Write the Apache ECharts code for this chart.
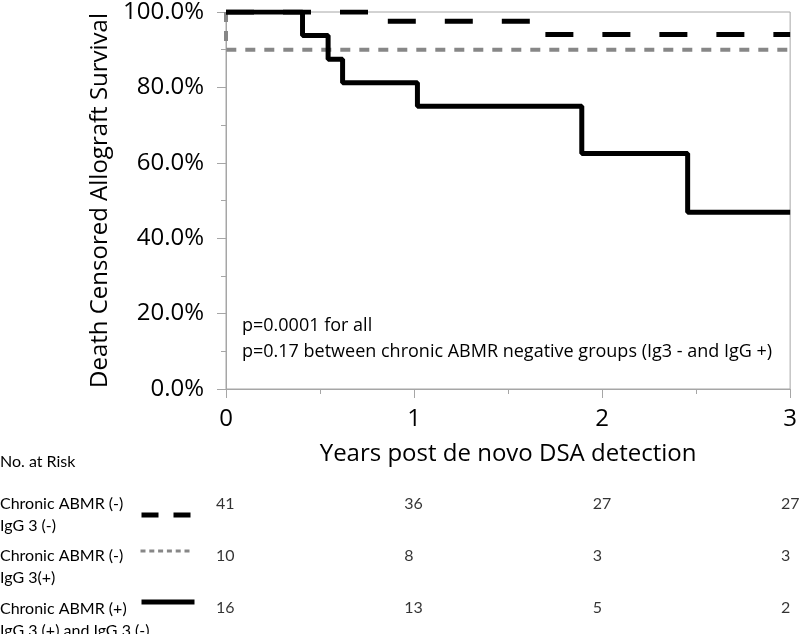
<!DOCTYPE html>
<html>
<head>
<meta charset="utf-8">
<script src="https://cdn.jsdelivr.net/npm/echarts@6/dist/echarts.min.js"></script>
<style>
  html,body{margin:0;padding:0;background:#fff;}
  #chart{width:800px;height:634px;}
</style>
</head>
<body>
<div id="chart"></div>
<script>
  // survival steps: [years, %]
  var curveNegNeg = [[0, 100], [0.82, 97.56], [1.67, 94.0], [3, 94.0]]
  var curveNegPos = [[0, 100], [0, 90], [3, 90]]
  var curvePos = [[0, 100], [0.407, 93.75], [0.543, 87.5], [0.62, 81.25], [1.018, 75], [1.892, 62.5], [2.455, 46.9], [3, 46.9]]

  var seriesNames = ['Chronic ABMR (-) IgG 3 (-)', 'Chronic ABMR (-) IgG 3(+)', 'Chronic ABMR (+)']
  var groupLabels = ['Chronic ABMR (-)\nIgG 3 (-)', 'Chronic ABMR (-)\nIgG 3(+)', 'Chronic ABMR (+)\nIgG 3 (+) and IgG 3 (-)']

  // No. at risk table
  var riskYears = [0, 1, 2, 3]
  var riskNegNeg = [41, 36, 27, 27]
  var riskNegPos = [10, 8, 3, 3]
  var riskPos = [16, 13, 5, 2]

  var xTicks = [0, 1, 2, 3]
  var yTicks = [0, 20, 40, 60, 80, 100]

  var axisGray = '#a6a6a6'
  var dotGray = '#878787'
  var mainFont = 'Open Sans'
  var tableFont = 'Lato'

  var riskRows = [riskNegNeg, riskNegPos, riskPos]
  var riskData = []
  riskRows.forEach(function (row, r) {
    row.forEach(function (v, i) {
      riskData.push([riskYears[i], seriesNames[r], v])
    })
  })

  var myChart = echarts.init(document.getElementById('chart'))

  var option = {
    animation: false,
    grid: [
      {
        left: 226, right: 9, top: 7, bottom: 245,
        show: true, borderColor: axisGray, borderWidth: 1, backgroundColor: '#fff'
      },
      {
        left: 226, right: 9, top: 478, height: 158
      }
    ],
    xAxis: [
      {
        type: 'value',
        gridIndex: 0,
        min: xTicks[0],
        max: xTicks[xTicks.length - 1],
        interval: 1,
        splitLine: {show: false},
        axisLine: {lineStyle: {color: axisGray, width: 1}},
        axisTick: {show: true, length: 9, lineStyle: {color: axisGray}},
        minorTick: {show: true, splitNumber: 2, length: 5, lineStyle: {color: axisGray}},
        axisLabel: {fontFamily: mainFont, fontSize: 24, color: '#000', margin: 18},
        name: 'Years post de novo DSA detection',
        nameLocation: 'middle',
        nameGap: 53,
        nameTextStyle: {fontFamily: mainFont, fontSize: 24, color: '#000'}
      },
      {
        type: 'value',
        gridIndex: 1,
        min: 0,
        max: 3,
        show: false
      }
    ],
    yAxis: [
      {
        type: 'value',
        gridIndex: 0,
        min: yTicks[0],
        max: yTicks[yTicks.length - 1],
        interval: 20,
        splitLine: {show: false},
        axisLine: {show: true, lineStyle: {color: axisGray, width: 1}},
        axisTick: {show: true, length: 9, lineStyle: {color: axisGray}},
        minorTick: {show: true, splitNumber: 2, length: 5, lineStyle: {color: axisGray}},
        axisLabel: {
          fontFamily: mainFont, fontSize: 24, color: '#000', margin: 22,
          formatter: function (v) { return v.toFixed(1) + '%' }
        },
        name: 'Death Censored Allograft Survival',
        nameLocation: 'middle',
        nameRotate: 90,
        nameGap: 104,
        nameTextStyle: {fontFamily: mainFont, fontSize: 24, color: '#000'}
      },
      {
        type: 'category',
        gridIndex: 1,
        inverse: true,
        data: seriesNames,
        show: false
      }
    ],
    legend: [
      {
        data: [seriesNames[0]], left: 139, top: 510, padding: 0,
        itemWidth: 49, itemHeight: 10, formatter: function () { return '' },
        lineStyle: {width: 5, type: [17, 15], color: '#000'},
        itemStyle: {opacity: 0}
      },
      {
        data: [seriesNames[1]], left: 139, top: 546, padding: 0,
        itemWidth: 49, itemHeight: 10, formatter: function () { return '' },
        lineStyle: {width: 3, type: [5, 3.8], color: dotGray},
        itemStyle: {opacity: 0}
      },
      {
        data: [seriesNames[2]], left: 139, top: 597, padding: 0,
        itemWidth: 53, itemHeight: 10, formatter: function () { return '' },
        lineStyle: {width: 5, color: '#000'},
        itemStyle: {opacity: 0}
      }
    ],
    series: [
      {
        name: seriesNames[1],
        type: 'line',
        xAxisIndex: 0, yAxisIndex: 0,
        step: 'end',
        symbol: 'none',
        lineStyle: {color: dotGray, width: 4, type: [10, 9]},
        itemStyle: {color: dotGray},
        data: curveNegPos,
        z: 2
      },
      {
        name: seriesNames[0],
        type: 'line',
        xAxisIndex: 0, yAxisIndex: 0,
        step: 'end',
        symbol: 'none',
        lineStyle: {color: '#000', width: 5, type: [28, 29]},
        itemStyle: {color: '#000'},
        data: curveNegNeg,
        z: 3
      },
      {
        name: seriesNames[2],
        type: 'line',
        xAxisIndex: 0, yAxisIndex: 0,
        step: 'end',
        symbol: 'none',
        lineStyle: {color: '#000', width: 5},
        itemStyle: {color: '#000'},
        data: curvePos,
        z: 4
      },
      {
        name: 'risk',
        type: 'scatter',
        xAxisIndex: 1, yAxisIndex: 1,
        symbolSize: 1,
        silent: true,
        itemStyle: {color: 'rgba(0,0,0,0)'},
        label: {
          show: true,
          position: 'inside',
          align: 'left',
          offset: [-10, 0],
          fontFamily: tableFont,
          fontSize: 16,
          color: '#000',
          formatter: function (p) { return p.value[2] }
        },
        data: riskData
      }
    ],
    graphic: [
      {
        type: 'text', left: 242, top: 313,
        style: {
          text: 'p=0.0001 for all\np=0.17 between chronic ABMR negative groups (Ig3 - and IgG +)',
          fontFamily: mainFont, fontSize: 18, lineHeight: 26, fill: '#000'
        }
      },
      {
        type: 'text', left: 0, top: 452,
        style: {text: 'No. at Risk', fontFamily: tableFont, fontSize: 16, lineHeight: 20, fill: '#000'}
      },
      {
        type: 'text', left: 0, top: 493,
        style: {text: groupLabels[0], fontFamily: tableFont, fontSize: 16, lineHeight: 22, fill: '#000'}
      },
      {
        type: 'text', left: 0, top: 545,
        style: {text: groupLabels[1], fontFamily: tableFont, fontSize: 16, lineHeight: 22, fill: '#000'}
      },
      {
        type: 'text', left: 0, top: 598,
        style: {text: groupLabels[2], fontFamily: tableFont, fontSize: 16, lineHeight: 22, fill: '#000'}
      }
    ]
  }

  myChart.setOption(option)
</script>
</body>
</html>
